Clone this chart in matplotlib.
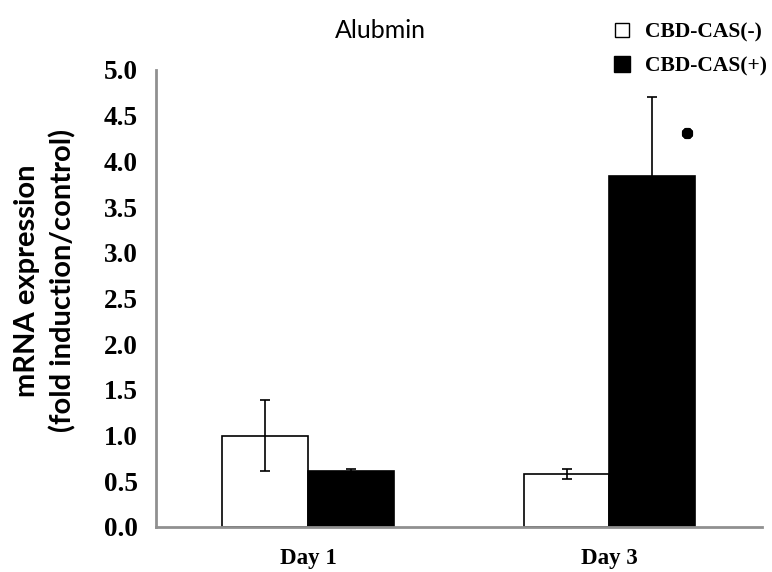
import numpy as np
import matplotlib
matplotlib.use('Agg')
import matplotlib.pyplot as plt
from matplotlib.lines import Line2D

days = ['Day 1', 'Day 3']
cas_minus = [1.00, 0.58]
cas_minus_err = [0.39, 0.05]
cas_plus = [0.61, 3.84]
cas_plus_err = [0.02, 0.86]
yticks = [0.0, 0.5, 1.0, 1.5, 2.0, 2.5, 3.0, 3.5, 4.0, 4.5, 5.0]
star_x, star_y = 1.257, 4.31

serif = 'Liberation Serif'
sans = 'Lato'

fig = plt.figure(figsize=(7.72, 5.72), dpi=100)
ax = fig.add_axes([0.2021, 0.0787, 0.785, 0.799])

x = np.arange(len(days))
w = 0.285
ekw = dict(elinewidth=1.2, capthick=1.2)
ax.bar(x - w / 2, cas_minus, w, color='white', edgecolor='black', linewidth=1.2,
       yerr=cas_minus_err, capsize=3.6, error_kw=ekw)
ax.bar(x + w / 2, cas_plus, w, color='black', edgecolor='black', linewidth=1.2,
       yerr=cas_plus_err, capsize=3.6, error_kw=ekw)

# significance mark above day 3
ax.plot(star_x, star_y, marker=(8, 2, 0), ms=8, mew=2.8, color='black')

ax.set_xlim(-0.504, 1.506)
ax.set_ylim(0, 5)
ax.set_yticks(yticks)
ax.set_yticklabels(['%.1f' % v for v in yticks], family=serif, fontweight='bold', fontsize=19.5)
ax.set_xticks(x)
ax.set_xticklabels(days, family=serif, fontweight='bold', fontsize=16.5)
ax.tick_params(length=0)
ax.tick_params(axis='y', pad=13)
ax.tick_params(axis='x', pad=15)

for s in ['top', 'right']:
    ax.spines[s].set_visible(False)
for s in ['left', 'bottom']:
    ax.spines[s].set_color('#909090')
    ax.spines[s].set_linewidth(2)

ax.set_ylabel('mRNA expression\n(fold induction/control)', family=sans,
              fontweight='bold', fontsize=21, linespacing=1.4)
ax.yaxis.set_label_coords(-0.132, 0.539)

fig.text(380 / 772, 1 - 30 / 572, 'Alubmin', ha='center', va='center',
         family=sans, fontsize=18)

handles = [Line2D([], [], marker='s', ls='', markerfacecolor='white',
                  markeredgecolor='black', markersize=10, markeredgewidth=1),
           Line2D([], [], marker='s', ls='', markerfacecolor='black',
                  markeredgecolor='black', markersize=11)]
fig.legend(handles, ['CBD-CAS(-)', 'CBD-CAS(+)'], loc='upper left',
           bbox_to_anchor=(600 / 772, 1 - 12 / 572), frameon=False,
           prop=dict(family=serif, weight='bold', size=15.5),
           handlelength=1.0, handletextpad=0.6, labelspacing=0.65, borderpad=0)

fig.savefig('out.png', dpi=100)
